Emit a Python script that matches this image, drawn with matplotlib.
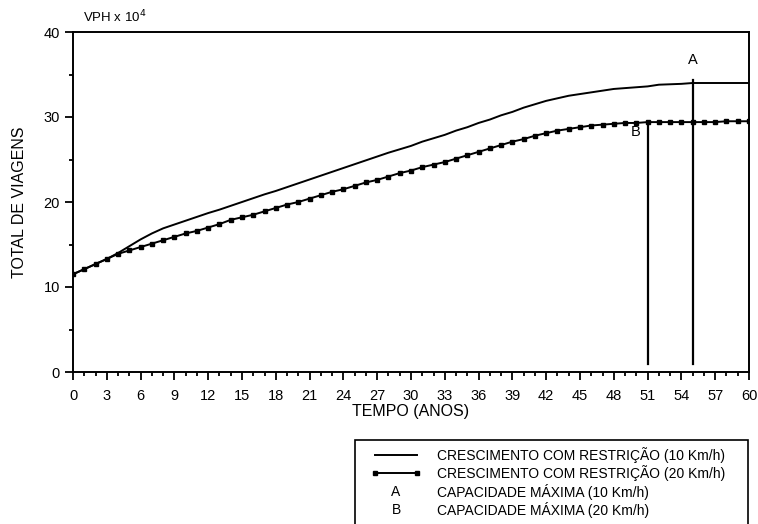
import matplotlib.pyplot as plt
from matplotlib.lines import Line2D
from matplotlib.patches import Rectangle
from matplotlib.ticker import MultipleLocator

plt.rcParams['font.family'] = ['Liberation Sans', 'DejaVu Sans']

years = list(range(0, 61))

# 10 Km/h restriction
growth_10 = [11.5, 12.1, 12.7, 13.3, 14.0, 14.8, 15.6, 16.3, 16.9, 17.35,
             17.8, 18.25, 18.7, 19.1, 19.55, 20.0, 20.45, 20.9, 21.3, 21.75,
             22.2, 22.65, 23.1, 23.55, 24.0, 24.45, 24.9, 25.35, 25.8, 26.2,
             26.6, 27.1, 27.5, 27.9, 28.4, 28.8, 29.3, 29.7, 30.2, 30.6,
             31.1, 31.5, 31.9, 32.2, 32.5, 32.7, 32.9, 33.1, 33.3, 33.4,
             33.5, 33.6, 33.8, 33.85, 33.9, 34.0, 34.0, 34.0, 34.0, 34.0, 34.0]

# 20 Km/h restriction
growth_20 = [11.5, 12.1, 12.7, 13.3, 13.9, 14.3, 14.7, 15.1, 15.5, 15.9,
             16.3, 16.6, 17.0, 17.4, 17.9, 18.2, 18.5, 18.9, 19.3, 19.7,
             20.0, 20.4, 20.8, 21.2, 21.5, 21.9, 22.3, 22.6, 23.0, 23.4,
             23.7, 24.1, 24.4, 24.7, 25.1, 25.5, 25.9, 26.3, 26.7, 27.1,
             27.4, 27.8, 28.1, 28.4, 28.6, 28.8, 29.0, 29.1, 29.2, 29.3,
             29.3, 29.4, 29.4, 29.4, 29.4, 29.4, 29.4, 29.4, 29.5, 29.5, 29.5]

cap_year = {"A": 55, "B": 51}
cap_top = {"A": 34.4, "B": 29.4}
cap_label_pos = {"A": (55, 36.7), "B": (49.9, 28.2)}

legend_labels = ["CRESCIMENTO COM RESTRIÇÃO (10 Km/h)",
                 "CRESCIMENTO COM RESTRIÇÃO (20 Km/h)",
                 "CAPACIDADE MÁXIMA (10 Km/h)",
                 "CAPACIDADE MÁXIMA (20 Km/h)"]

W, H = 758, 524
fig = plt.figure(figsize=(W / 100, H / 100), dpi=100)
ax = fig.add_axes([73 / W, 1 - 372 / H, (749 - 73) / W, (372 - 32) / H])

ax.plot(years, growth_10, color="black", lw=1.4)
ax.plot(years, growth_20, color="black", lw=1.4, marker="s", markersize=3.5)

for k in cap_year:
    ax.plot([cap_year[k], cap_year[k]], [1.0, cap_top[k]], color="black", lw=1.6)
    ax.text(*cap_label_pos[k], k, fontsize=10.5, ha="center", va="center")

ax.set_xlim(0, 60)
ax.set_ylim(0, 40)
ax.xaxis.set_major_locator(MultipleLocator(3))
ax.xaxis.set_minor_locator(MultipleLocator(1))
ax.yaxis.set_major_locator(MultipleLocator(10))
ax.yaxis.set_minor_locator(MultipleLocator(5))
ax.tick_params(which="major", length=6, width=1.3, labelsize=10.5, direction="out")
ax.tick_params(which="minor", length=3, width=1.3, direction="out")
ax.tick_params(axis="x", pad=6)
for s in ax.spines.values():
    s.set_linewidth(1.4)

ax.set_xlabel("TEMPO (ANOS)", fontsize=11.5, labelpad=1)
ax.set_ylabel("TOTAL DE VIAGENS", fontsize=11.5, labelpad=12)
fig.text(83 / W, 1 - 17 / H, "VPH x 10$^4$", fontsize=9.5, va="center")

# legend box drawn in figure pixels
def fx(px):
    return px / W

def fy(py):
    return 1 - py / H

fig.add_artist(Rectangle((fx(355), fy(535)), fx(748) - fx(355), fy(440) - fy(535),
                         transform=fig.transFigure, fill=False, lw=1.2, ec="black"))
rows = [455, 473, 492, 510]
fig.add_artist(Line2D([fx(375), fx(417)], [fy(rows[0])] * 2, color="black", lw=1.4,
                      transform=fig.transFigure))
fig.add_artist(Line2D([fx(375), fx(417)], [fy(rows[1])] * 2, color="black", lw=1.4,
                      marker="s", markersize=3.5, markevery=[0, 1],
                      transform=fig.transFigure))
fig.text(fx(396), fy(rows[2]), "A", fontsize=10, ha="center", va="center")
fig.text(fx(396), fy(rows[3]), "B", fontsize=10, ha="center", va="center")
for r, lab in zip(rows, legend_labels):
    fig.text(fx(437), fy(r), lab, fontsize=10, va="center")

fig.savefig("out.png", dpi=100)
